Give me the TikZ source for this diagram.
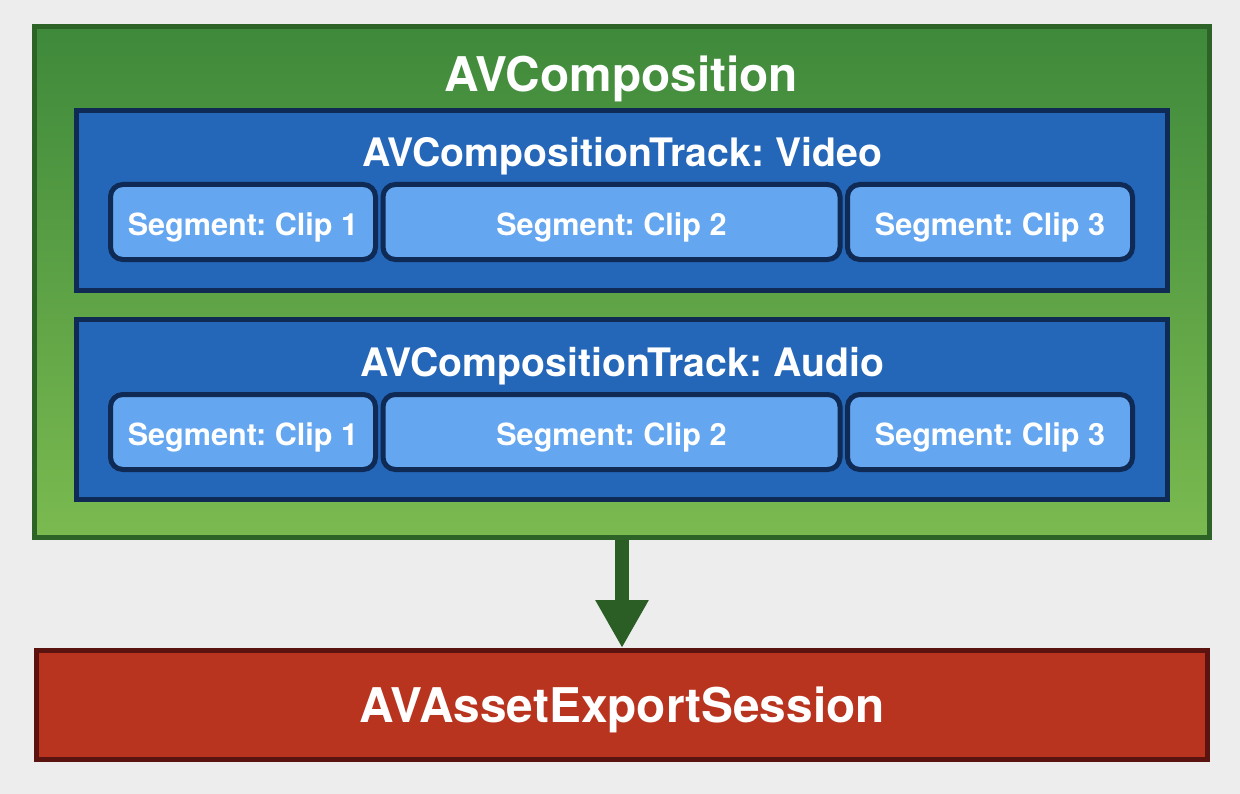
\documentclass[tikz,border=0pt]{standalone}
\usepackage{fontspec}
\setmainfont{TeX Gyre Heros}
\usepackage{xcolor}
\usetikzlibrary{arrows.meta,positioning}
\frenchspacing
\definecolor{paper}{HTML}{EDEDED}
\definecolor{comptop}{HTML}{3E893B}
\definecolor{compbot}{HTML}{7BBA50}
\definecolor{compedge}{HTML}{2E6327}
\definecolor{trackblue}{HTML}{2466B8}
\definecolor{navyedge}{HTML}{0E2A55}
\definecolor{clipblue}{HTML}{64A6F0}
\definecolor{exportred}{HTML}{B9341F}
\definecolor{exportedge}{HTML}{5B130F}
\definecolor{arrowgreen}{HTML}{2B5E25}
\newcommand{\compfont}{\fontsize{27.2}{32}\selectfont\bfseries}
\newcommand{\trackfont}{\fontsize{22.3}{26}\selectfont\bfseries}
\newcommand{\clipfont}{\fontsize{17.4}{20}\selectfont\bfseries}
\tikzset{
  compbox/.style={rectangle,draw=compedge,line width=1mm,top color=comptop,bottom color=compbot,minimum width=23.5cm,minimum height=10.22cm},
  trackbox/.style={rectangle,draw=navyedge,line width=1mm,fill=trackblue,minimum width=21.82cm,minimum height=3.6cm},
  clip/.style={rectangle,rounded corners=7pt,draw=navyedge,line width=1mm,fill=clipblue,minimum height=1.5cm,inner sep=0pt,font=\clipfont,text=white,text height=15.5pt,text depth=0pt},
  exportbox/.style={rectangle,draw=exportedge,line width=1mm,fill=exportred,minimum width=23.42cm,minimum height=2.18cm,inner sep=0pt,font=\compfont,text=white,text height=19.6pt,text depth=0pt},
  boxtitle/.style={anchor=base,text=white,inner sep=0pt},
  arrow/.style={-{Triangle[length=9.6mm,width=10mm]},line width=2.8mm,draw=arrowgreen}
}

\begin{document}
\begin{tikzpicture}
    \fill[paper] (0,0) rectangle (24.8,-15.88);

    \node[compbox] (comp) at (12.435,-5.64) {};
    \node[boxtitle, font=\compfont] (comptitle) at (12.42,-1.84) {AVComposition};

    % video track
    \node[trackbox] (video) at (12.44,-4.01) {};
    \node[boxtitle, font=\trackfont] (videotitle) at (12.44,-3.34) {AVCompositionTrack: Video};
    \node[clip, minimum width=5.3cm] (vclip1) at (4.86,-4.44) {Segment: Clip 1};
    \node[clip, minimum width=9.14cm, right=0.05cm of vclip1] (vclip2) {Segment: Clip 2};
    \node[clip, minimum width=5.7cm, right=0.05cm of vclip2] (vclip3) {Segment: Clip 3};

    % audio track
    \node[trackbox] (audio) at (12.44,-8.19) {};
    \node[boxtitle, font=\trackfont] (audiotitle) at (12.44,-7.52) {AVCompositionTrack: Audio};
    \node[clip, minimum width=5.3cm] (aclip1) at (4.86,-8.64) {Segment: Clip 1};
    \node[clip, minimum width=9.14cm, right=0.05cm of aclip1] (aclip2) {Segment: Clip 2};
    \node[clip, minimum width=5.7cm, right=0.05cm of aclip2] (aclip3) {Segment: Clip 3};

    \node[exportbox] (export) at (12.44,-14.1) {AVAssetExportSession};

    \draw[arrow] (comp.south -| export.north) -- (export.north);
\end{tikzpicture}
\end{document}
